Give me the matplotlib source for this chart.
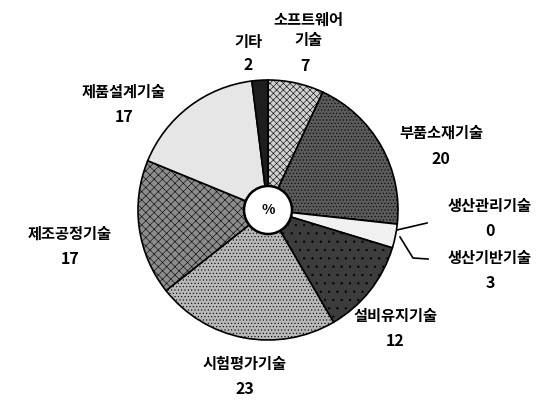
import matplotlib.pyplot as plt

plt.rcParams['font.family'] = ['Noto Sans CJK KR', 'DejaVu Sans']
plt.rcParams['hatch.color'] = '#202020'
plt.rcParams['hatch.linewidth'] = 0.4

# 분야별 비율 (%), 12시 방향부터 시계 방향
labels = ['소프트웨어\n기술', '부품소재기술', '생산관리기술', '생산기반기술', '설비유지기술',
          '시험평가기술', '제조공정기술', '제품설계기술', '기타']
values = [7, 20, 0, 3, 12, 23, 17, 17, 2]

colors = ['#d0d0d0', '#5a5a5a', '#f4f4f4', '#f0f0f0', '#3c3c3c',
          '#b8b8b8', '#8c8c8c', '#e6e6e6', '#1e1e1e']
hatches = ['xxxxx', '.....', '', '', '..', '.....', 'xxxx', '', '']

# label positions in pixels (x, y from top)
label_pos = [(308, 30), (441, 133), (490, 206), (490, 258), (395, 316),
             (245, 364), (70, 234), (124, 92), (248, 42)]
value_pos = [(305, 66), (441, 159), (490, 231), (490, 283), (395, 341),
             (245, 389), (70, 259), (124, 117), (248, 65)]

W, H = 550, 404
fig = plt.figure(figsize=(5.5, 4.04), dpi=100)
ax = fig.add_axes([0, 0, 1, 1])

cx, cy, r = 268, H - 210, 130
wedges, _ = ax.pie(values, startangle=90, counterclock=False, colors=colors,
                   center=(cx, cy), radius=r, frame=True,
                   wedgeprops=dict(edgecolor='black', linewidth=1.2))
for w, h in zip(wedges, hatches):
    w.set_hatch(h)
ax.set_xlim(0, W)
ax.set_ylim(0, H)
ax.set_aspect('equal')
ax.axis('off')

# center hole
hole = plt.Circle((cx, cy), 24, facecolor='white', edgecolor='black', lw=1.8, zorder=5)
ax.add_patch(hole)
ax.text(cx, cy, '%', ha='center', va='center', fontsize=10, fontweight='black', zorder=6)

for lab, (lx, ly) in zip(labels, label_pos):
    ax.text(lx, H - ly, lab, ha='center', va='center', fontsize=11,
            fontweight='black', linespacing=1.3)
for v, (vx, vy) in zip(values, value_pos):
    ax.text(vx, H - vy, str(v), ha='center', va='center', fontsize=11.5, fontweight='black')

# leader lines for the two small slices
ax.plot([397, 427], [H - 230, H - 223], color='black', lw=1.2)
ax.plot([400, 413, 428], [H - 237, H - 258, H - 259], color='black', lw=1.2)

fig.savefig('out.png', dpi=100)
